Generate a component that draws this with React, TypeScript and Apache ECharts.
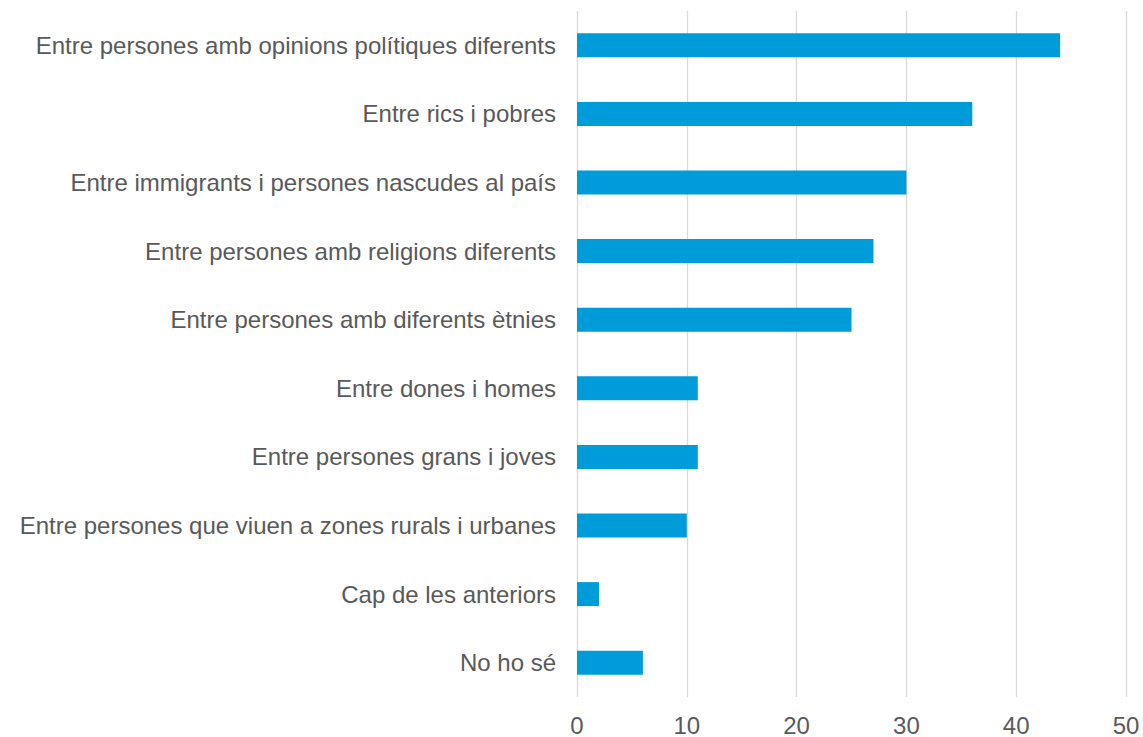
import React, { useEffect, useRef } from "react";
import * as echarts from "echarts";

const categories = [
  "Entre persones amb opinions polítiques diferents",
  "Entre rics i pobres",
  "Entre immigrants i persones nascudes al país",
  "Entre persones amb religions diferents",
  "Entre persones amb diferents ètnies",
  "Entre dones i homes",
  "Entre persones grans i joves",
  "Entre persones que viuen a zones rurals i urbanes",
  "Cap de les anteriors",
  "No ho sé",
];
const values = [44, 36, 30, 27, 25, 11, 11, 10, 2, 6];
const axisMin = 0;
const axisMax = 50;
const axisInterval = 10;

export default function App() {
  const ref = useRef<HTMLDivElement>(null);
  useEffect(() => {
    if (!ref.current) return;
    const chart = echarts.init(ref.current, null, { renderer: "svg" });
    chart.setOption({
      animation: false,
      backgroundColor: "#ffffff",
      grid: { left: 577, right: 17, top: 11, bottom: 39, containLabel: false },
      xAxis: {
        type: "value",
        min: axisMin,
        max: axisMax,
        interval: axisInterval,
        axisLine: { show: false },
        axisTick: { show: false },
        axisLabel: {
          color: "#595959",
          fontSize: 24,
          fontFamily: "Liberation Sans, Arial, sans-serif",
          margin: 16,
        },
        splitLine: { show: true, lineStyle: { color: "#d9d9d9", width: 1.3 } },
      },
      yAxis: {
        type: "category",
        data: categories,
        inverse: true,
        axisLine: { show: false },
        axisTick: { show: false },
        axisLabel: {
          color: "#595959",
          fontSize: 24,
          fontFamily: "Liberation Sans, Arial, sans-serif",
          margin: 21,
        },
        splitLine: { show: false },
      },
      series: [
        {
          type: "bar",
          data: values,
          barWidth: 24,
          itemStyle: { color: "#009bd9" },
        },
      ],
    });
    return () => chart.dispose();
  }, []);
  return (
    <div
      ref={ref}
      style={{ position: "fixed", left: 0, top: 0, width: 1143, height: 737 }}
    />
  );
}
